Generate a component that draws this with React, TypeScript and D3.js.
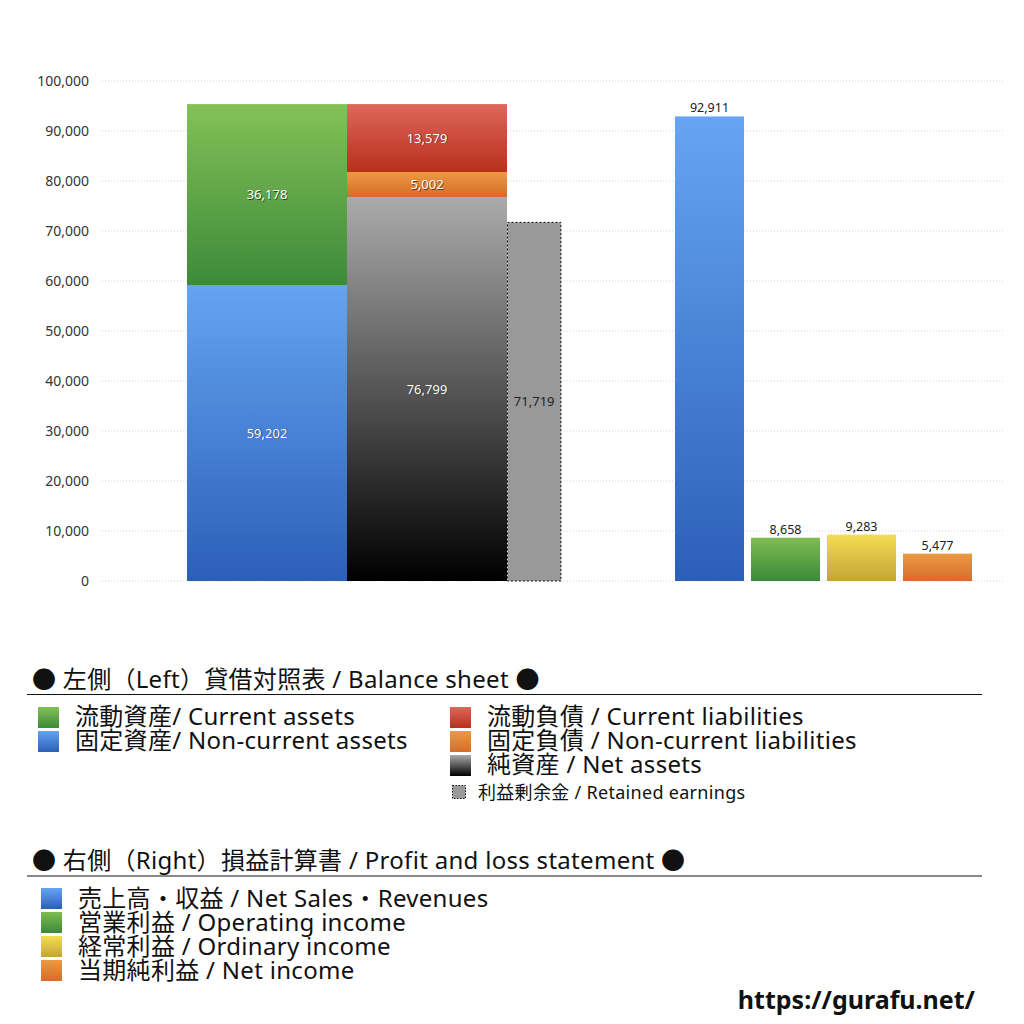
import React from "react";
import * as d3 from "d3";

const WIDTH = 1024;
const HEIGHT = 1024;

// balance sheet (left side)
const ASSET_KEYS = ["noncurrentAssets", "currentAssets"];
const ASSET_VALUES = [59202, 36178];
const CLAIM_KEYS = ["netAssets", "noncurrentLiabilities", "currentLiabilities"];
const CLAIM_VALUES = [76799, 5002, 13579];
const RETAINED_EARNINGS = 71719;

// profit and loss (right side)
const PL_KEYS = ["sales", "operating", "ordinary", "net"];
const PL_VALUES = [92911, 8658, 9283, 5477];

const BS_LEGEND_LEFT = [
  { key: "currentAssets", label: "流動資産/ Current assets" },
  { key: "noncurrentAssets", label: "固定資産/ Non-current assets" },
];
const BS_LEGEND_RIGHT = [
  { key: "currentLiabilities", label: "流動負債 /  Current liabilities" },
  { key: "noncurrentLiabilities", label: "固定負債 / Non-current liabilities" },
  { key: "netAssets", label: "純資産 / Net assets" },
];
const PL_LEGEND = [
  { key: "sales", label: "売上高・収益 / Net Sales・Revenues" },
  { key: "operating", label: "営業利益 / Operating income" },
  { key: "ordinary", label: "経常利益 / Ordinary income" },
  { key: "net", label: "当期純利益 / Net income" },
];

const GRADIENTS: Record<string, [string, string]> = {
  noncurrentAssets: ["#64a4f3", "#2c5fb8"],
  currentAssets: ["#84c157", "#3c8a39"],
  netAssets: ["#ababab", "#000000"],
  noncurrentLiabilities: ["#ec9a42", "#d56c2b"],
  currentLiabilities: ["#de665b", "#b9301d"],
  sales: ["#66a5f3", "#2c5fb8"],
  operating: ["#7fbc52", "#3c8a39"],
  ordinary: ["#f4de52", "#c4a338"],
  net: ["#eb9a42", "#d56c2b"],
};

const fmt = d3.format(",d");
const NUM_FONT = "'Noto Sans', sans-serif";
const TEXT_FONT = "'Noto Sans', 'Noto Sans CJK JP', sans-serif";
const LEGEND_SIZE = 24;

const y = d3.scaleLinear().domain([0, 100000]).range([581, 81]);

const xLeft = d3
  .scaleBand<string>()
  .domain(["assets", "claims"])
  .range([187, 507])
  .padding(0);
const retainedWidth = xLeft.bandwidth() * 0.34;

const xRight = d3
  .scaleBand<string>()
  .domain(PL_KEYS)
  .range([675, 972])
  .paddingInner(0.092)
  .paddingOuter(0);

const stackUp = (keys: string[], values: number[]) => {
  const tops = d3.cumsum(values);
  return keys.map((k, i) => ({
    key: k,
    value: values[i],
    y0: tops[i] - values[i],
    y1: tops[i],
  }));
};

const ShadowLabel = ({ x, yPos, text }: { x: number; yPos: number; text: string }) => (
  <g fontFamily={NUM_FONT} fontSize={13} textAnchor="middle">
    <text x={x + 0.8} y={yPos + 0.8} dy="0.35em" fill="#000" opacity={0.55}>
      {text}
    </text>
    <text x={x} y={yPos} dy="0.35em" fill="#fff">
      {text}
    </text>
  </g>
);

export default function App() {
  const assets = stackUp(ASSET_KEYS, ASSET_VALUES);
  const claims = stackUp(CLAIM_KEYS, CLAIM_VALUES);
  const ticks = y.ticks(10);

  const swatch = (key: string, x: number, yTop: number) => (
    <rect x={x} y={yTop} width={21} height={21} fill={`url(#g-${key})`} />
  );

  return (
    <svg
      width={WIDTH}
      height={HEIGHT}
      style={{ position: "absolute", left: 0, top: 0, background: "#fff" }}
    >
      <defs>
        {Object.entries(GRADIENTS).map(([k, [c0, c1]]) => (
          <linearGradient key={k} id={`g-${k}`} x1="0" y1="0" x2="0" y2="1">
            <stop offset="0" stopColor={c0} />
            <stop offset="1" stopColor={c1} />
          </linearGradient>
        ))}
      </defs>

      {/* grid + y axis */}
      <g>
        {ticks.map((t) => (
          <g key={t}>
            <line
              x1={102}
              x2={1005}
              y1={y(t)}
              y2={y(t)}
              stroke="#c8c8c8"
              strokeWidth={0.8}
              strokeDasharray="1,2"
            />
            <text
              x={89}
              y={y(t)}
              dy="0.35em"
              textAnchor="end"
              fontFamily={NUM_FONT}
              fontSize={14}
              fill="#333"
            >
              {fmt(t)}
            </text>
          </g>
        ))}
      </g>

      {/* balance sheet */}
      <g>
        {assets.map((d) => (
          <rect
            key={d.key}
            x={xLeft("assets")}
            width={xLeft.bandwidth()}
            y={y(d.y1)}
            height={y(d.y0) - y(d.y1)}
            fill={`url(#g-${d.key})`}
          />
        ))}
        {claims.map((d) => (
          <rect
            key={d.key}
            x={xLeft("claims")}
            width={xLeft.bandwidth()}
            y={y(d.y1)}
            height={y(d.y0) - y(d.y1)}
            fill={`url(#g-${d.key})`}
          />
        ))}
        <rect
          x={(xLeft("claims") as number) + xLeft.bandwidth() + 0.5}
          width={retainedWidth - 1}
          y={y(RETAINED_EARNINGS)}
          height={y(0) - y(RETAINED_EARNINGS)}
          fill="#999"
          stroke="#111"
          strokeWidth={1}
          strokeDasharray="2,2"
        />
        {assets.map((d) => (
          <ShadowLabel
            key={d.key}
            x={(xLeft("assets") as number) + xLeft.bandwidth() / 2}
            yPos={y((d.y0 + d.y1) / 2)}
            text={fmt(d.value)}
          />
        ))}
        {claims.map((d) => (
          <ShadowLabel
            key={d.key}
            x={(xLeft("claims") as number) + xLeft.bandwidth() / 2}
            yPos={y((d.y0 + d.y1) / 2)}
            text={fmt(d.value)}
          />
        ))}
        <text
          x={(xLeft("claims") as number) + xLeft.bandwidth() + retainedWidth / 2}
          y={y(RETAINED_EARNINGS / 2)}
          dy="0.35em"
          textAnchor="middle"
          fontFamily={NUM_FONT}
          fontSize={13}
          fill="#222"
        >
          {fmt(RETAINED_EARNINGS)}
        </text>
      </g>

      {/* profit and loss */}
      <g>
        {PL_KEYS.map((k, i) => (
          <g key={k}>
            <rect
              x={xRight(k)}
              width={xRight.bandwidth()}
              y={y(PL_VALUES[i])}
              height={y(0) - y(PL_VALUES[i])}
              fill={`url(#g-${k})`}
            />
            <text
              x={(xRight(k) as number) + xRight.bandwidth() / 2}
              y={y(PL_VALUES[i]) - 4}
              textAnchor="middle"
              fontFamily={NUM_FONT}
              fontSize={12.5}
              fill="#222"
            >
              {fmt(PL_VALUES[i])}
            </text>
          </g>
        ))}
      </g>

      {/* legend: balance sheet */}
      <g fontFamily={TEXT_FONT} fill="#111" letterSpacing={0.3}>
        <text x={32} y={688} fontSize={LEGEND_SIZE}>
          ● 左側（Left）貸借対照表 / Balance sheet ●
        </text>
        <line x1={27} x2={982} y1={694.5} y2={694.5} stroke="#111" strokeWidth={1} />
        {BS_LEGEND_LEFT.map((d, i) => (
          <g key={d.key}>
            {swatch(d.key, 38, 707 + i * 24)}
            <text x={75} y={725 + i * 24} fontSize={LEGEND_SIZE}>
              {d.label}
            </text>
          </g>
        ))}
        {BS_LEGEND_RIGHT.map((d, i) => (
          <g key={d.key}>
            {swatch(d.key, 450, 707 + i * 24)}
            <text x={487} y={725 + i * 24} fontSize={LEGEND_SIZE}>
              {d.label}
            </text>
          </g>
        ))}
        <rect
          x={452.5}
          y={785.5}
          width={13}
          height={13}
          fill="#999"
          stroke="#111"
          strokeDasharray="1.5,1.5"
        />
        <text x={478} y={799} fontSize={18}>
          利益剰余金 / Retained earnings
        </text>

        {/* legend: profit and loss */}
        <text x={32} y={869} fontSize={LEGEND_SIZE}>
          ● 右側（Right）損益計算書 / Profit and loss statement ●
        </text>
        <line x1={27} x2={982} y1={876} y2={876} stroke="#888" strokeWidth={2} />
        {PL_LEGEND.map((d, i) => (
          <g key={d.key}>
            {swatch(d.key, 41, 888 + i * 24)}
            <text x={78} y={907 + i * 24} fontSize={LEGEND_SIZE}>
              {d.label}
            </text>
          </g>
        ))}
        <text
          x={975}
          y={1009}
          fontSize={25}
          fontWeight="bold"
          textAnchor="end"
          fontFamily={NUM_FONT}
          letterSpacing={0}
        >
          https://gurafu.net/
        </text>
      </g>
    </svg>
  );
}
